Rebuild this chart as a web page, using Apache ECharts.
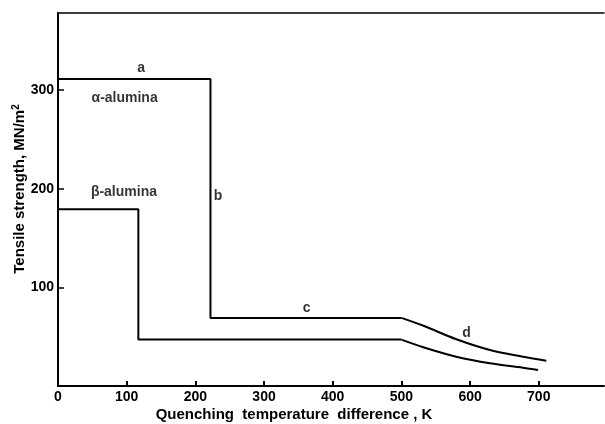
<!DOCTYPE html>
<html>
<head>
<meta charset="utf-8">
<script src="https://cdn.jsdelivr.net/npm/echarts@6/dist/echarts.min.js"></script>
<style>html,body{margin:0;padding:0;background:#fff}#c{width:605px;height:424px}</style>
</head>
<body>
<div id="c"></div>
<script>
// Data
const xTickLabels = [0, 100, 200, 300, 400, 500, 600, 700];
const yTickLabels = [100, 200, 300];
const alphaX = [0, 222, 222, 500, 532, 580, 629, 677, 711];
const alphaY = [311, 311, 69, 69, 61, 47.4, 36.5, 29.7, 25.7];
const betaX  = [0, 117, 117, 500, 532, 580, 629, 677, 699];
const betaY  = [179, 179, 47, 47, 39.3, 29.7, 23, 18.6, 16.2];
const curveLabels = [
  {text: 'a', x: 121, y: 322},
  {text: 'α-alumina', x: 97, y: 292},
  {text: 'β-alumina', x: 96, y: 196},
  {text: 'b', x: 233, y: 192},
  {text: 'c', x: 362, y: 79},
  {text: 'd', x: 595, y: 54}
];

const chart = echarts.init(document.getElementById('c'), null, {renderer: 'canvas'});
const FONT = 'Liberation Sans, Arial, sans-serif';
const toPts = (xs, ys) => xs.map((x, i) => [x, ys[i]]);
const BREAK = 3; // index where the straight steps end and the curved tail begins
const lineSeries = (xs, ys) => {
  const pts = toPts(xs, ys);
  return [
    {type: 'line', data: pts.slice(0, BREAK + 1), showSymbol: false, symbol: 'none',
      lineStyle: {color: '#000', width: 2}, z: 3},
    {type: 'line', data: pts.slice(BREAK), showSymbol: false, symbol: 'none', smooth: 0.35,
      lineStyle: {color: '#000', width: 2}, z: 3}
  ];
};

chart.setOption({
  animation: false,
  backgroundColor: '#fff',
  grid: {left: 58, right: 1, top: 13, bottom: 38, containLabel: false},
  xAxis: [{
    type: 'value', min: 0, max: 795, interval: 100,
    axisLine: {show: true, lineStyle: {color: '#000', width: 2}},
    axisTick: {show: true, inside: true, length: 5, lineStyle: {color: '#000', width: 2},
      customValues: xTickLabels.filter(v => v > 0)},
    axisLabel: {customValues: xTickLabels, color: '#000', fontFamily: FONT, fontWeight: 'bold', fontSize: 14, margin: 4},
    splitLine: {show: false}
  }, {
    type: 'value', position: 'top', min: 0, max: 795,
    axisLine: {show: true, onZero: false, lineStyle: {color: '#000', width: 1.5}},
    axisTick: {show: false}, axisLabel: {show: false}, splitLine: {show: false}
  }],
  yAxis: {
    type: 'value', min: 0, max: 378, interval: 100,
    axisLine: {show: true, lineStyle: {color: '#000', width: 2}},
    axisTick: {show: true, inside: true, length: 6, lineStyle: {color: '#000', width: 1.5},
      customValues: yTickLabels},
    axisLabel: {customValues: yTickLabels, color: '#000', fontFamily: FONT, fontWeight: 'bold', fontSize: 14, margin: 4},
    splitLine: {show: false}
  },
  series: [
    ...lineSeries(alphaX, alphaY),
    ...lineSeries(betaX, betaY),
    {type: 'scatter', data: curveLabels.map(l => ({value: [l.x, l.y], name: l.text})),
      symbolSize: 0, silent: true,
      label: {show: true, position: 'inside', formatter: p => p.name,
        color: '#000', fontFamily: FONT, fontWeight: 'bold', fontSize: 14}}
  ],
  graphic: [
    {type: 'text', x: 20, y: 189, rotation: Math.PI / 2,
      style: {text: 'Tensile strength, MN/m{sup|2}', fill: '#000', font: 'bold 15px ' + FONT,
        align: 'center', verticalAlign: 'middle',
        rich: {sup: {fontSize: 10, fontWeight: 'bold', fontFamily: FONT, verticalAlign: 'top', padding: [0, 0, 7, 0]}}}},
    {type: 'text', x: 294, y: 415,
      style: {text: 'Quenching  temperature  difference , K', fill: '#000', font: 'bold 15px ' + FONT,
        align: 'center', verticalAlign: 'middle'}}
  ]
});
</script>
</body>
</html>
